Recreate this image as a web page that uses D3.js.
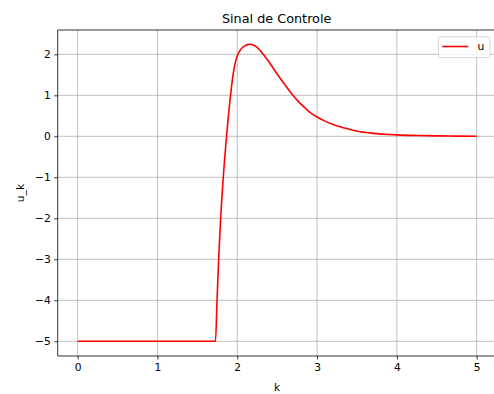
<!DOCTYPE html>
<html>
<head>
<meta charset="utf-8">
<script src="https://cdn.jsdelivr.net/npm/d3@7"></script>
<style>
  html, body { margin: 0; padding: 0; background: #fff; }
  svg { display: block; }
  text { font-family: "DejaVu Sans", sans-serif; fill: #000; }
</style>
</head>
<body>
<svg id="chart" width="494" height="394"></svg>
<script>
// Control signal u over time k
const kValues = [0, 1.727, 1.747, 1.767, 1.792, 1.825, 1.866, 1.916, 1.945, 1.975, 2.0, 2.03, 2.065, 2.1, 2.13, 2.16, 2.2, 2.24, 2.284, 2.33, 2.38, 2.43, 2.5, 2.6, 2.69, 2.77, 2.85, 2.92, 3.0, 3.1, 3.2, 3.33, 3.45, 3.54, 3.65, 3.75, 3.9, 4.0, 4.25, 4.5, 4.75, 5.0];
const uValues = [-5, -5, -4, -3, -2, -1, 0, 1, 1.47, 1.79, 1.96, 2.08, 2.165, 2.212, 2.236, 2.245, 2.23, 2.18, 2.1, 1.99, 1.86, 1.72, 1.52, 1.25, 1.02, 0.84, 0.69, 0.57, 0.47, 0.37, 0.29, 0.21, 0.15, 0.11, 0.085, 0.065, 0.045, 0.035, 0.02, 0.01, 0.005, 0.0];
const xTicks = [0, 1, 2, 3, 4, 5];
const yTicks = [-5, -4, -3, -2, -1, 0, 1, 2];
const seriesName = "u";

const points = kValues.map((k, i) => ({ k, u: uValues[i] }));

const svg = d3.select("#chart");
const plotLeft = 57.7, plotRight = 496.6, plotTop = 30, plotBottom = 356;

const x = d3.scaleLinear().domain([-0.25, 5.25]).range([plotLeft, plotRight]);
const y = d3.scaleLinear().domain([-5.359, 2.593]).range([plotBottom, plotTop]);

// grid
const grid = svg.append("g").attr("stroke", "#b0b0b0").attr("stroke-width", 0.8);
xTicks.forEach(t => grid.append("line")
  .attr("x1", x(t)).attr("x2", x(t)).attr("y1", plotTop).attr("y2", plotBottom));
yTicks.forEach(t => grid.append("line")
  .attr("x1", plotLeft).attr("x2", plotRight).attr("y1", y(t)).attr("y2", y(t)));

// data line
svg.append("path")
  .datum(points)
  .attr("fill", "none")
  .attr("stroke", "#ff0000")
  .attr("stroke-width", 1.6)
  .attr("stroke-linejoin", "round")
  .attr("d", d3.line().x(d => x(d.k)).y(d => y(d.u)).curve(d3.curveMonotoneX));

// axes
const fmt = d3.format("d");
const xAxis = svg.append("g").attr("transform", `translate(0,${plotBottom})`)
  .call(d3.axisBottom(x).tickValues(xTicks).tickFormat(fmt).tickSize(3.5).tickPadding(3.5));
const yAxis = svg.append("g").attr("transform", `translate(${plotLeft},0)`)
  .call(d3.axisLeft(y).tickValues(yTicks).tickFormat(fmt).tickSize(3.5).tickPadding(3.5));
[xAxis, yAxis].forEach(g => {
  g.selectAll("path.domain").remove();
  g.selectAll(".tick line").attr("stroke", "#000").attr("stroke-width", 0.8);
  g.selectAll(".tick text").attr("font-size", "10.7px").attr("font-family", "DejaVu Sans, sans-serif").attr("fill", "#000");
});

// spines
const spines = svg.append("g").attr("stroke", "#000").attr("stroke-width", 0.8).attr("fill", "none");
spines.append("line").attr("x1", plotLeft).attr("x2", plotLeft).attr("y1", plotTop).attr("y2", plotBottom);
spines.append("line").attr("x1", plotLeft).attr("x2", plotRight).attr("y1", plotBottom).attr("y2", plotBottom);
spines.append("line").attr("x1", plotLeft).attr("x2", plotRight).attr("y1", plotTop).attr("y2", plotTop);
spines.append("line").attr("x1", plotRight).attr("x2", plotRight).attr("y1", plotTop).attr("y2", plotBottom);

// title and axis labels
svg.append("text").attr("x", (plotLeft + plotRight) / 2 - 0.5).attr("y", 23)
  .attr("text-anchor", "middle").attr("font-size", "12.8px").text("Sinal de Controle");
svg.append("text").attr("x", x(2.5)).attr("y", 391)
  .attr("text-anchor", "middle").attr("font-size", "10.7px").text("k");
svg.append("text").attr("transform", `translate(24,${(plotTop + plotBottom) / 2}) rotate(-90)`)
  .attr("text-anchor", "middle").attr("font-size", "10.7px").text("u_k");

// legend
const lg = svg.append("g");
lg.append("rect").attr("x", 438.3).attr("y", 36.7).attr("width", 51.7).attr("height", 21)
  .attr("rx", 2.5).attr("fill", "#fff").attr("fill-opacity", 0.8)
  .attr("stroke", "#cccccc").attr("stroke-width", 0.8);
lg.append("line").attr("x1", 442.3).attr("x2", 468.3).attr("y1", 46.5).attr("y2", 46.5)
  .attr("stroke", "#ff0000").attr("stroke-width", 1.6);
lg.append("text").attr("x", 477.5).attr("y", 50.2).attr("font-size", "10.7px").text(seriesName);
</script>
</body>
</html>
